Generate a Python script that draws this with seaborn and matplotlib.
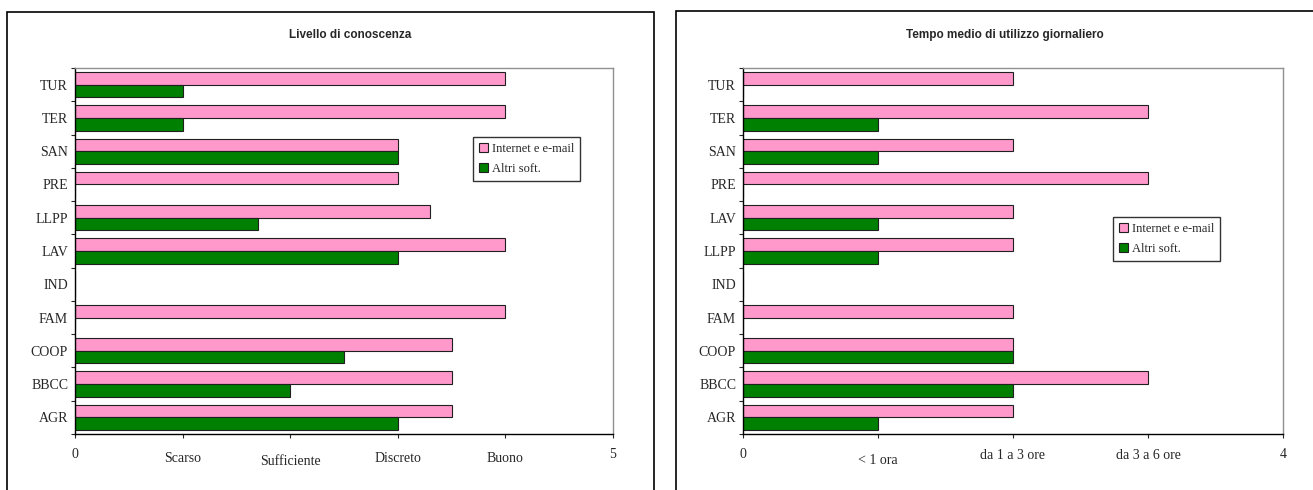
import numpy as np
import pandas as pd
import matplotlib
matplotlib.use("Agg")
import matplotlib.pyplot as plt
import matplotlib.transforms as mtransforms
from matplotlib.patches import Rectangle
import seaborn as sns

sns.set_style("white")
plt.rcParams["font.family"] = ["Liberation Serif", "DejaVu Serif"]

series = ["Internet e e-mail", "Altri soft."]
colors = ["#FF99CC", "#008000"]

# Livello di conoscenza (top to bottom)
cat_left = ["TUR", "TER", "SAN", "PRE", "LLPP", "LAV", "IND", "FAM", "COOP", "BBCC", "AGR"]
internet_left = [4, 4, 3, 3, 3.3, 4, 0, 4, 3.5, 3.5, 3.5]
altri_left = [1, 1, 3, 0, 1.7, 3, 0, 0, 2.5, 2, 3]
xlabels_left = ["0", "Scarso", "Sufficiente", "Discreto", "Buono", "5"]
xdrop_left = [0, 4, 7, 4, 4, 0]

# Tempo medio di utilizzo giornaliero (top to bottom)
cat_right = ["TUR", "TER", "SAN", "PRE", "LAV", "LLPP", "IND", "FAM", "COOP", "BBCC", "AGR"]
internet_right = [2, 3, 2, 3, 2, 2, 0, 2, 2, 3, 2]
altri_right = [0, 1, 1, 0, 1, 1, 0, 0, 2, 2, 1]
xlabels_right = ["0", "< 1 ora", "da 1 a 3 ore", "da 3 a 6 ore", "4"]
xdrop_right = [0, 6, 1, 1, 0]


def long_df(cats, a, b):
    return pd.DataFrame({
        "cat": cats * 2,
        "val": list(a) + list(b),
        "serie": [series[0]] * len(cats) + [series[1]] * len(cats),
    })


fig = plt.figure(figsize=(13.13, 4.9), dpi=100)
W, H = 1313, 490

# chart borders
fig.patches.append(Rectangle((7 / W, -0.05), (654 - 7) / W, 1.05 - 12 / H,
                             transform=fig.transFigure, fill=False, ec="black", lw=1.2))
fig.patches.append(Rectangle((676 / W, -0.05), 0.5, 1.05 - 11 / H,
                             transform=fig.transFigure, fill=False, ec="black", lw=1.2))


def draw(rect, cats, a, b, xmax, xlabels, xdrop, title, title_x, leg_xy):
    ax = fig.add_axes(rect)
    df = long_df(cats, a, b)
    sns.barplot(data=df, x="val", y="cat", hue="serie", order=cats, hue_order=series,
                palette=colors, orient="h", width=0.76, gap=0, edgecolor="#202020",
                linewidth=0.8, saturation=1, ax=ax, errorbar=None)
    n = len(cats)
    ax.set_xlim(0, xmax)
    ax.set_ylim(n - 0.5, -0.5)
    ax.set_xlabel("")
    ax.set_ylabel("")
    ax.set_xticks(range(xmax + 1))
    ax.set_xticklabels(xlabels, fontsize=10)
    ax.set_yticks(range(n))
    ax.set_yticklabels(cats, fontsize=10)
    ax.set_yticks(np.arange(-0.5, n, 1), minor=True)
    ax.tick_params(axis="y", which="major", length=0, pad=5)
    ax.tick_params(axis="y", which="minor", length=3, width=0.8, direction="out", left=True)
    ax.tick_params(axis="x", which="major", length=3, width=0.8, direction="out", bottom=True, pad=7)
    for s in ["left", "bottom"]:
        ax.spines[s].set_color("black")
        ax.spines[s].set_linewidth(1)
    for s in ["top", "right"]:
        ax.spines[s].set_color("#909090")
        ax.spines[s].set_linewidth(1)
    for lab, d in zip(ax.get_xticklabels(), xdrop):
        off = mtransforms.ScaledTranslation(0, -d / 100, fig.dpi_scale_trans)
        lab.set_transform(lab.get_transform() + off)
    ax.legend_.remove()
    leg = ax.legend(loc="upper left", bbox_to_anchor=leg_xy, bbox_transform=fig.transFigure,
                    frameon=True, fancybox=False, edgecolor="black", fontsize=9,
                    handlelength=0.7, handleheight=0.7, handletextpad=0.3,
                    labelspacing=0.6, borderpad=0.5, borderaxespad=0)
    leg.get_frame().set_linewidth(1)
    fig.text(title_x / W, 1 - 35 / H, title, ha="center", va="center",
             family="Liberation Sans", fontweight="bold", fontsize=8.5)
    return ax


bottom = 1 - 434 / H
height = (434 - 68) / H
draw([75 / W, bottom, (613 - 75) / W, height], cat_left, internet_left, altri_left, 5,
     xlabels_left, xdrop_left, "Livello di conoscenza", 350, (473 / W, 1 - 137 / H))
draw([743 / W, bottom, (1283 - 743) / W, height], cat_right, internet_right, altri_right, 4,
     xlabels_right, xdrop_right, "Tempo medio di utilizzo giornaliero", 1005, (1113 / W, 1 - 217 / H))

fig.savefig("out.png", dpi=100)
